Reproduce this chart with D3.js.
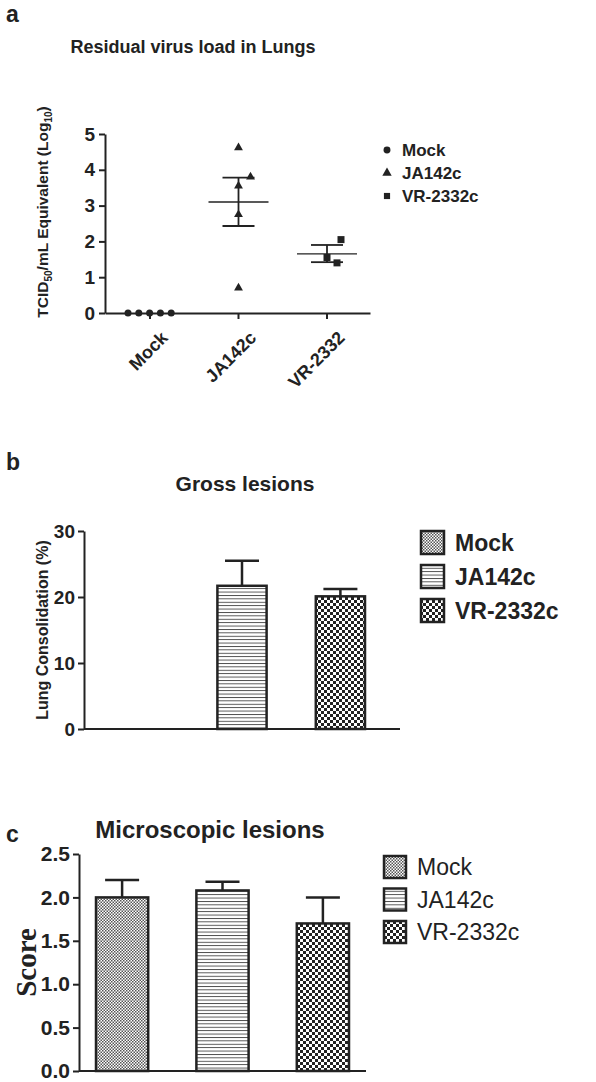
<!DOCTYPE html>
<html><head><meta charset="utf-8">
<script src="https://cdn.jsdelivr.net/npm/d3@7"></script>
<style>body{margin:0;background:#fff}svg{font-family:Arial,"Liberation Sans",sans-serif}text{fill:#222}</style>
</head><body><div id="chart"></div>
<script>
// panel a data
const groupsA = ["Mock", "JA142c", "VR-2332"];
const mockPoints = [0, 0, 0, 0, 0];
const jaPoints = [4.62, 3.8, 3.55, 2.75, 0.7];
const vrPoints = [2.05, 1.55, 1.4];
const meanA = [null, 3.1, 1.65];
const errLowA = [null, 2.43, 1.42];
const errHighA = [null, 3.78, 1.9];
const legendA = ["Mock", "JA142c", "VR-2332c"];
// panel b data
const groupsB = ["Mock", "JA142c", "VR-2332c"];
const grossMean = [0, 21.7, 20.1];
const grossErr = [0, 3.8, 1.1];
// panel c data
const microMean = [2.0, 2.08, 1.7];
const microErr = [0.2, 0.1, 0.3];
const ticksA = [0, 1, 2, 3, 4, 5];
const ticksB = [0, 10, 20, 30];
const ticksC = [0, 0.5, 1.0, 1.5, 2.0, 2.5];

const svg = d3.select("#chart").append("svg").attr("width", 596).attr("height", 1082);
const ink = "#222";

// patterns
const defs = svg.append("defs");
let p = defs.append("pattern").attr("id", "pMock").attr("patternUnits", "userSpaceOnUse").attr("width", 3).attr("height", 3);
p.append("rect").attr("width", 3).attr("height", 3).attr("fill", "#fff");
p.append("rect").attr("width", 1.5).attr("height", 1.5).attr("fill", "#555");
p.append("rect").attr("x", 1.5).attr("y", 1.5).attr("width", 1.5).attr("height", 1.5).attr("fill", "#555");
p = defs.append("pattern").attr("id", "pJA").attr("patternUnits", "userSpaceOnUse").attr("width", 6).attr("height", 3.4);
p.append("rect").attr("width", 6).attr("height", 3.4).attr("fill", "#fff");
p.append("rect").attr("width", 6).attr("height", 0.9).attr("fill", "#444");
p = defs.append("pattern").attr("id", "pVR").attr("patternUnits", "userSpaceOnUse").attr("width", 6).attr("height", 6);
p.append("rect").attr("width", 6).attr("height", 6).attr("fill", "#fff");
p.append("rect").attr("width", 3).attr("height", 3).attr("fill", "#222");
p.append("rect").attr("x", 3).attr("y", 3).attr("width", 3).attr("height", 3).attr("fill", "#222");
const fills = ["url(#pMock)", "url(#pJA)", "url(#pVR)"];

function panelLetter(t, y) {
  svg.append("text").attr("x", 6).attr("y", y).style("font-size", "23px").style("font-weight", "bold").text(t);
}

// ---------- panel a ----------
panelLetter("a", 22);
svg.append("text").attr("x", 193).attr("y", 53).attr("text-anchor", "middle").style("font-size", "18px").style("font-weight", "bold").text("Residual virus load in Lungs");
const yA = d3.scaleLinear().domain([0, 5]).range([313, 134]);
const xA = d3.scalePoint().domain(groupsA).range([150, 327]);
const gA = svg.append("g");
gA.append("g").attr("transform", "translate(105,0)")
  .call(d3.axisLeft(yA).tickValues(ticksA).tickFormat(d3.format("d")).tickSize(6).tickSizeOuter(0))
  .call(g => g.selectAll("text").style("font-size", "19px").style("font-weight", "bold").attr("dx", -1));
gA.append("g").attr("transform", "translate(0,313)")
  .call(d3.axisBottom(d3.scaleLinear().range([105, 370])).tickValues([]).tickSizeOuter(0));
groupsA.forEach(gp => gA.append("line").attr("x1", xA(gp)).attr("x2", xA(gp)).attr("y1", 313).attr("y2", 319).attr("stroke", ink).attr("stroke-width", 2));
gA.selectAll(".domain").attr("stroke", ink).attr("stroke-width", 2);
gA.selectAll(".tick line").attr("stroke", ink).attr("stroke-width", 2);
groupsA.forEach(gp => {
  gA.append("text").attr("transform", `translate(${xA(gp) + 10},${330}) rotate(-45)`)
    .attr("text-anchor", "end").attr("dy", "0.7em").style("font-size", "18px").style("font-weight", "bold").text(gp);
});
mockPoints.forEach((v, i) => gA.append("circle").attr("cx", xA("Mock") - 22 + i * 10.8).attr("cy", yA(v)).attr("r", 3.5).attr("fill", ink));
const jaOff = [0, 12, 0, 0, 0];
const tri = d3.symbol().type(d3.symbolTriangle).size(34);
jaPoints.forEach((v, i) => gA.append("path").attr("d", tri).attr("transform", `translate(${xA("JA142c") + jaOff[i]},${yA(v)})`).attr("fill", ink));
const vrOff = [14, 0, 10];
vrPoints.forEach((v, i) => gA.append("rect").attr("x", xA("VR-2332") + vrOff[i] - 3.5).attr("y", yA(v) - 3.5).attr("width", 7).attr("height", 7).attr("fill", ink));
groupsA.forEach((gp, i) => {
  if (meanA[i] === null) return;
  const cx = xA(gp);
  gA.append("line").attr("x1", cx - 30).attr("x2", cx + 30).attr("y1", yA(meanA[i])).attr("y2", yA(meanA[i])).attr("stroke", ink).attr("stroke-width", 1.3);
  gA.append("line").attr("x1", cx).attr("x2", cx).attr("y1", yA(errLowA[i])).attr("y2", yA(errHighA[i])).attr("stroke", ink).attr("stroke-width", 1.8);
  [errLowA[i], errHighA[i]].forEach(v => gA.append("line").attr("x1", cx - 16).attr("x2", cx + 16).attr("y1", yA(v)).attr("y2", yA(v)).attr("stroke", ink).attr("stroke-width", 1.8));
});
const yl = gA.append("text").attr("transform", "translate(48,212) rotate(-90)").attr("text-anchor", "middle").style("font-size", "15.5px").style("font-weight", "bold");
yl.append("tspan").text("TCID");
yl.append("tspan").style("font-size", "10px").attr("dy", 4).text("50");
yl.append("tspan").attr("dy", -4).text("/mL Equivalent (Log");
yl.append("tspan").style("font-size", "10px").attr("dy", 4).text("10");
yl.append("tspan").attr("dy", -4).text(")");
const legSyms = [d3.symbolCircle, d3.symbolTriangle, d3.symbolSquare];
legendA.forEach((t, i) => {
  const y = 150 + i * 23;
  gA.append("path").attr("d", d3.symbol().type(legSyms[i]).size(38)).attr("transform", `translate(387,${y})`).attr("fill", ink);
  gA.append("text").attr("x", 402).attr("y", y).attr("dy", "0.35em").style("font-size", "17px").style("font-weight", "bold").text(t);
});

// ---------- bar panels ----------
function barPanel(opt) {
  const g = svg.append("g");
  const y = d3.scaleLinear().domain(opt.domain).range([opt.y0, opt.yTop]);
  const x = d3.scaleBand().domain(groupsB).range([opt.x0 + opt.pad, opt.x1 - opt.pad]).paddingInner(opt.inner);
  g.append("text").attr("x", opt.titleX).attr("y", opt.titleY).attr("text-anchor", "middle").style("font-size", opt.titleSize + "px").style("font-weight", "bold").text(opt.title);
  groupsB.forEach((gp, i) => {
    const m = opt.mean[i];
    if (m <= 0) return;
    const cx = x(gp) + x.bandwidth() / 2;
    g.append("line").attr("x1", cx).attr("x2", cx).attr("y1", y(m)).attr("y2", y(m + opt.err[i])).attr("stroke", ink).attr("stroke-width", 2.5);
    g.append("line").attr("x1", cx - 17).attr("x2", cx + 17).attr("y1", y(m + opt.err[i])).attr("y2", y(m + opt.err[i])).attr("stroke", ink).attr("stroke-width", 2.5);
    g.append("rect").attr("x", x(gp)).attr("y", y(m)).attr("width", x.bandwidth()).attr("height", y(0) - y(m))
      .attr("fill", fills[i]).attr("stroke", ink).attr("stroke-width", 2.5);
  });
  const ax = g.append("g").attr("transform", `translate(${opt.x0},0)`)
    .call(d3.axisLeft(y).tickValues(opt.ticks).tickFormat(opt.fmt).tickSize(6).tickSizeOuter(0));
  ax.selectAll("text").style("font-size", opt.tickSize + "px").style("font-weight", "bold");
  g.append("line").attr("x1", opt.x0).attr("x2", opt.x1).attr("y1", y(0)).attr("y2", y(0)).attr("stroke", ink).attr("stroke-width", 2);
  g.selectAll(".domain, .tick line").attr("stroke", ink).attr("stroke-width", 2);
  const ylab = g.append("text").attr("transform", `translate(${opt.ylX},${(opt.y0 + opt.yTop) / 2}) rotate(-90)`).attr("text-anchor", "middle")
    .style("font-size", opt.ylSize + "px").style("font-weight", "bold").text(opt.ylabel);
  if (opt.ylFamily) ylab.style("font-family", opt.ylFamily);
  groupsB.forEach((t, i) => {
    const yy = opt.legY + i * opt.legStep;
    g.append("rect").attr("x", opt.legX).attr("y", yy).attr("width", opt.box).attr("height", opt.box).attr("fill", fills[i]).attr("stroke", ink).attr("stroke-width", 2.5);
    g.append("text").attr("x", opt.legX + opt.box + 11).attr("y", yy + opt.box / 2).attr("dy", "0.36em").style("font-size", opt.legSize + "px")
      .style("font-weight", opt.legWeight).text(t);
  });
}

panelLetter("b", 470);
barPanel({domain: [0, 30], y0: 729, yTop: 531, x0: 84, x1: 400, pad: 35, inner: 0.5, mean: grossMean, err: grossErr,
  ticks: ticksB, fmt: d3.format("d"), tickSize: 19, title: "Gross lesions", titleX: 245, titleY: 491, titleSize: 21,
  ylabel: "Lung Consolidation (%)", ylX: 48, ylSize: 16, legX: 421, legY: 531, legStep: 34, box: 23, legSize: 23, legWeight: "bold"});

panelLetter("c", 842);
barPanel({domain: [0, 2.5], y0: 1071, yTop: 854, x0: 79, x1: 366, pad: 17, inner: 0.48, mean: microMean, err: microErr,
  ticks: ticksC, fmt: d3.format(".1f"), tickSize: 21, title: "Microscopic lesions", titleX: 210, titleY: 838, titleSize: 24,
  ylabel: "Score", ylX: 36, ylSize: 29, ylFamily: "'Liberation Serif',serif", legX: 384, legY: 856, legStep: 32.5, box: 22, legSize: 23, legWeight: "normal"});
</script></body></html>
